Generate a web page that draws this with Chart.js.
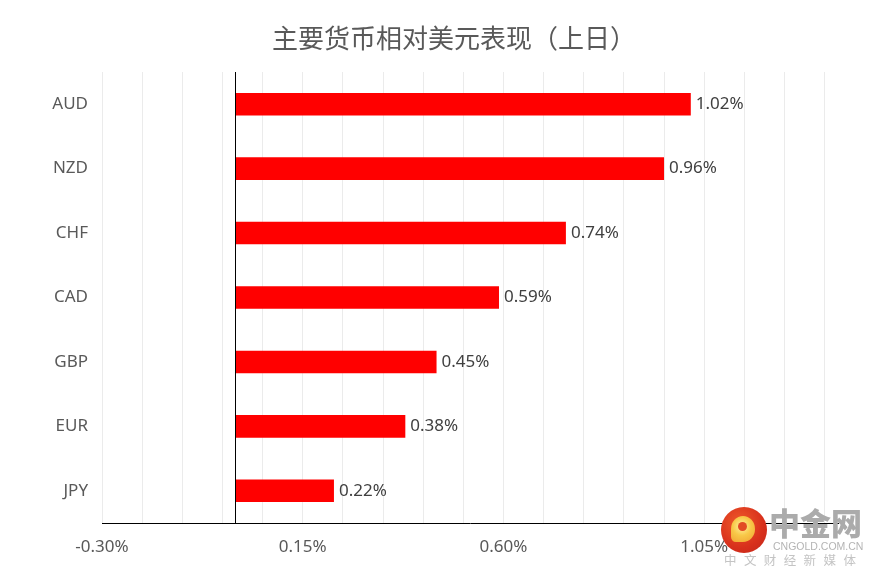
<!DOCTYPE html>
<html><head><meta charset="utf-8">
<script src="https://cdn.jsdelivr.net/npm/chart.js@4/dist/chart.umd.min.js"></script>
<style>
html,body{margin:0;padding:0;background:#fff;}
#wrap{position:relative;width:878px;height:579px;overflow:hidden;}
canvas{display:block;}
.logo{position:absolute;left:721px;top:507px;width:46px;height:46px;border-radius:50%;
 background:radial-gradient(circle at 40% 35%,#ef5a2a 0%,#d8301c 60%,#c0261a 100%);}
.swirl{position:absolute;left:10px;top:9px;width:24px;height:26px;border-radius:50% 50% 50% 20%;
 background:radial-gradient(circle at 45% 40%,#fff1a0 0%,#f8c848 45%,#f0a030 100%);}
.swirl2{position:absolute;left:17px;top:15px;width:9px;height:9px;border-radius:50%;background:#e24a24;}
.wm1{position:absolute;left:769px;top:503px;font-family:"Noto Sans CJK SC";font-weight:900;font-size:31px;color:#ababab;line-height:38px;}
.wm2{position:absolute;left:773px;top:540px;font-family:"Liberation Sans";font-size:10.5px;color:#b4b4b4;letter-spacing:0px;line-height:13px;white-space:nowrap;}
.wm3{position:absolute;left:724px;top:552px;font-family:"Noto Sans CJK SC";font-size:12.5px;color:#c4c4c4;letter-spacing:7.4px;line-height:16px;white-space:nowrap;}
</style></head><body>
<div id="wrap">
<canvas id="c" width="878" height="579"></canvas>
<div class="logo"><div class="swirl"></div><div class="swirl2"></div></div>
<div class="wm1">中金网</div>
<div class="wm2">CNGOLD.COM.CN</div>
<div class="wm3">中文财经新媒体</div>
</div>
<script>
const chartTitle = '主要货币相对美元表现（上日）';
const categories = ['AUD', 'NZD', 'CHF', 'CAD', 'GBP', 'EUR', 'JPY'];
const values = [1.02, 0.96, 0.74, 0.59, 0.45, 0.38, 0.22];
const tickLabels = [-0.30, 0.15, 0.60, 1.05];
const axisMin = -0.30;
const axisMax = 1.35;
const gridStep = 0.09;

const isGrid = v => {
  const k = (v - axisMin) / gridStep;
  return Math.abs(k - Math.round(k)) < 1e-6 && v < axisMax - 1e-6;
};
const isLabel = v => tickLabels.some(t => Math.abs(t - v) < 1e-6);

const titlePlugin = {
  id: 'customTitle',
  afterDraw(chart) {
    const {ctx} = chart;
    ctx.save();
    ctx.font = '26px "Noto Sans CJK SC", sans-serif';
    ctx.fillStyle = '#595959';
    ctx.textAlign = 'center';
    ctx.textBaseline = 'middle';
    ctx.fillText(chartTitle, chart.width / 2 + 15, 38);
    ctx.restore();
  }
};

const zeroLine = {
  id: 'zeroLine',
  afterDatasetsDraw(chart) {
    const {ctx, chartArea, scales} = chart;
    const x = Math.round(scales.x.getPixelForValue(0)) - 0.5;
    ctx.save();
    ctx.strokeStyle = '#000';
    ctx.lineWidth = 1;
    ctx.beginPath();
    ctx.moveTo(x, chartArea.top);
    ctx.lineTo(x, chartArea.bottom);
    ctx.stroke();
    ctx.restore();
  }
};

const valueLabels = {
  id: 'valueLabels',
  afterDatasetsDraw(chart) {
    const {ctx} = chart;
    const meta = chart.getDatasetMeta(0);
    ctx.save();
    ctx.font = '17px "Noto Sans", "Liberation Sans", sans-serif';
    ctx.fillStyle = '#404040';
    ctx.textAlign = 'left';
    ctx.textBaseline = 'middle';
    meta.data.forEach((bar, i) => {
      ctx.fillText(values[i].toFixed(2) + '%', bar.x + 5, bar.y);
    });
    ctx.restore();
  }
};

new Chart(document.getElementById('c'), {
  type: 'bar',
  data: {
    labels: categories,
    datasets: [{
      data: values,
      backgroundColor: '#ff0000',
      borderWidth: 0,
      barPercentage: 0.35,
      categoryPercentage: 1.0
    }]
  },
  options: {
    indexAxis: 'y',
    responsive: false,
    animation: false,
    devicePixelRatio: 1,
    layout: {padding: {left: 40, right: 40, top: 72, bottom: 0}},
    plugins: {
      legend: {display: false},
      tooltip: {enabled: false},
      title: {display: false}
    },
    scales: {
      x: {
        type: 'linear',
        min: axisMin,
        max: axisMax,
        afterBuildTicks: s => {
          const t = [];
          for (let v = axisMin; v < axisMax - 1e-6; v += gridStep) t.push({value: Math.round(v * 100) / 100});
          s.ticks = t;
        },
        afterFit: s => { s.height = 56; },
        ticks: {
          autoSkip: false,
          maxRotation: 0,
          padding: 14,
          color: '#595959',
          font: {family: '"Noto Sans", "Liberation Sans", sans-serif', size: 17},
          callback: v => isLabel(v) ? v.toFixed(2) + '%' : ''
        },
        grid: {
          drawTicks: false,
          color: ctx => (ctx.tick && isGrid(ctx.tick.value)) ? '#ebebeb' : 'rgba(0,0,0,0)',
          lineWidth: 1
        },
        border: {display: true, color: '#000', width: 1}
      },
      y: {
        ticks: {
          padding: 14,
          color: '#595959',
          font: {family: '"Noto Sans", "Liberation Sans", sans-serif', size: 17}
        },
        grid: {display: false, drawTicks: false},
        border: {display: false},
        afterFit: s => { s.width = 62; }
      }
    }
  },
  plugins: [zeroLine, valueLabels, titlePlugin]
});
</script>
</body></html>
